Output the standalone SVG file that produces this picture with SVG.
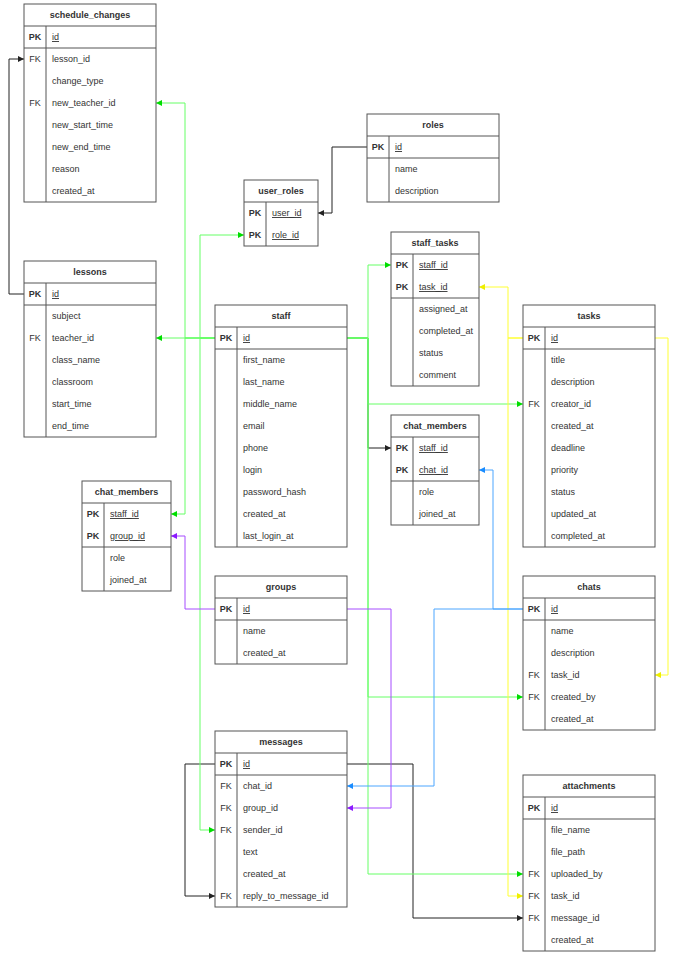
<svg xmlns="http://www.w3.org/2000/svg" width="680" height="955" viewBox="0 0 680 955">
<style>
.box{fill:#fff;stroke:#555;stroke-width:1}
.ln{stroke:#555;stroke-width:1}
text{font-family:"Liberation Sans",Arial,sans-serif;font-size:9px;fill:#333}
.h{font-weight:bold;text-anchor:middle}
.k{text-anchor:middle}
.pk{font-weight:bold;text-anchor:middle}
.u{text-decoration:underline}
.e{fill:none;stroke-width:1}
.bk{stroke:#222}
.gr{stroke:#66ff66}
.ye{stroke:#ffff33}
.bl{stroke:#4da6ff}
.pu{stroke:#a64dff}
</style>
<defs>
<marker id="ab" markerUnits="userSpaceOnUse" markerWidth="7" markerHeight="6" refX="6" refY="3" orient="auto"><path d="M0,0 L6,3 L0,6 z" fill="#222"/></marker>
<marker id="ag" markerUnits="userSpaceOnUse" markerWidth="7" markerHeight="6" refX="6" refY="3" orient="auto"><path d="M0,0 L6,3 L0,6 z" fill="#00dd00"/></marker>
<marker id="ay" markerUnits="userSpaceOnUse" markerWidth="7" markerHeight="6" refX="6" refY="3" orient="auto"><path d="M0,0 L6,3 L0,6 z" fill="#eeee00"/></marker>
<marker id="abl" markerUnits="userSpaceOnUse" markerWidth="7" markerHeight="6" refX="6" refY="3" orient="auto"><path d="M0,0 L6,3 L0,6 z" fill="#1a8cff"/></marker>
<marker id="ap" markerUnits="userSpaceOnUse" markerWidth="7" markerHeight="6" refX="6" refY="3" orient="auto"><path d="M0,0 L6,3 L0,6 z" fill="#8c1aff"/></marker>
</defs>
<rect width="680" height="955" fill="#fff"/>

<g id="connectors">
<path class="e bk" d="M24,294 H9 V59 H24" marker-end="url(#ab)"/>
<path class="e bk" d="M367,147 H332 V213 H318" marker-end="url(#ab)"/>
<path class="e bk" d="M347,338 H368 V448 H391" marker-end="url(#ab)"/>
<path class="e bk" d="M215,764 H185 V896 H215" marker-end="url(#ab)"/>
<path class="e bk" d="M347,764 H413 V918 H523" marker-end="url(#ab)"/>

<path class="e gr" d="M215,338 H156" marker-end="url(#ag)"/>
<path class="e gr" d="M215,338 H185 V103 H156" marker-end="url(#ag)"/>
<path class="e gr" d="M215,338 H185 V514 H171" marker-end="url(#ag)"/>
<path class="e gr" d="M215,338 H200 V235 H244" marker-end="url(#ag)"/>
<path class="e gr" d="M215,338 H200 V830 H215" marker-end="url(#ag)"/>
<path class="e gr" d="M347,338 H368 V265 H391" marker-end="url(#ag)"/>
<path class="e gr" d="M347,338 H368 V404 H523" marker-end="url(#ag)"/>
<path class="e gr" d="M347,338 H368 V697 H523" marker-end="url(#ag)"/>
<path class="e gr" d="M347,338 H368 V874 H523" marker-end="url(#ag)"/>

<path class="e ye" d="M523,338 H508 V287 H479" marker-end="url(#ay)"/>
<path class="e ye" d="M523,338 H508 V896 H523" marker-end="url(#ay)"/>
<path class="e ye" d="M655,338 H668 V675 H655" marker-end="url(#ay)"/>

<path class="e bl" d="M523,609 H493 V470 H479" marker-end="url(#abl)"/>
<path class="e bl" d="M523,609 H434 V786 H347" marker-end="url(#abl)"/>

<path class="e pu" d="M215,609 H185 V536 H171" marker-end="url(#ap)"/>
<path class="e pu" d="M347,609 H391 V808 H347" marker-end="url(#ap)"/>
</g>

<g id="schedule_changes">
<rect class="box" x="24" y="4" width="132" height="198"/>
<line class="ln" x1="24" y1="26" x2="156" y2="26"/>
<line class="ln" x1="24" y1="48" x2="156" y2="48"/>
<line class="ln" x1="46" y1="26" x2="46" y2="202"/>
<text class="h" x="90" y="18">schedule_changes</text>
<text class="pk" x="35" y="40">PK</text><text class="u" x="52" y="40">id</text>
<text class="k" x="35" y="62">FK</text><text x="52" y="62">lesson_id</text>
<text x="52" y="84">change_type</text>
<text class="k" x="35" y="106">FK</text><text x="52" y="106">new_teacher_id</text>
<text x="52" y="128">new_start_time</text>
<text x="52" y="150">new_end_time</text>
<text x="52" y="172">reason</text>
<text x="52" y="194">created_at</text>
</g>

<g id="lessons">
<rect class="box" x="24" y="261" width="132" height="176"/>
<line class="ln" x1="24" y1="283" x2="156" y2="283"/>
<line class="ln" x1="24" y1="305" x2="156" y2="305"/>
<line class="ln" x1="46" y1="283" x2="46" y2="437"/>
<text class="h" x="90" y="275">lessons</text>
<text class="pk" x="35" y="297">PK</text><text class="u" x="52" y="297">id</text>
<text x="52" y="319">subject</text>
<text class="k" x="35" y="341">FK</text><text x="52" y="341">teacher_id</text>
<text x="52" y="363">class_name</text>
<text x="52" y="385">classroom</text>
<text x="52" y="407">start_time</text>
<text x="52" y="429">end_time</text>
</g>

<g id="roles">
<rect class="box" x="367" y="114" width="132" height="88"/>
<line class="ln" x1="367" y1="136" x2="499" y2="136"/>
<line class="ln" x1="367" y1="158" x2="499" y2="158"/>
<line class="ln" x1="389" y1="136" x2="389" y2="202"/>
<text class="h" x="433" y="128">roles</text>
<text class="pk" x="378" y="150">PK</text><text class="u" x="395" y="150">id</text>
<text x="395" y="172">name</text>
<text x="395" y="194">description</text>
</g>

<g id="user_roles">
<rect class="box" x="244" y="180" width="74" height="66"/>
<line class="ln" x1="244" y1="202" x2="318" y2="202"/>
<line class="ln" x1="266" y1="202" x2="266" y2="246"/>
<text class="h" x="281" y="194">user_roles</text>
<text class="pk" x="255" y="216">PK</text><text class="u" x="272" y="216">user_id</text>
<text class="pk" x="255" y="238">PK</text><text class="u" x="272" y="238">role_id</text>
</g>

<g id="staff_tasks">
<rect class="box" x="391" y="232" width="88" height="154"/>
<line class="ln" x1="391" y1="254" x2="479" y2="254"/>
<line class="ln" x1="391" y1="298" x2="479" y2="298"/>
<line class="ln" x1="413" y1="254" x2="413" y2="386"/>
<text class="h" x="435" y="246">staff_tasks</text>
<text class="pk" x="402" y="268">PK</text><text class="u" x="419" y="268">staff_id</text>
<text class="pk" x="402" y="290">PK</text><text class="u" x="419" y="290">task_id</text>
<text x="419" y="312">assigned_at</text>
<text x="419" y="334">completed_at</text>
<text x="419" y="356">status</text>
<text x="419" y="378">comment</text>
</g>

<g id="staff">
<rect class="box" x="215" y="305" width="132" height="242"/>
<line class="ln" x1="215" y1="327" x2="347" y2="327"/>
<line class="ln" x1="215" y1="349" x2="347" y2="349"/>
<line class="ln" x1="237" y1="327" x2="237" y2="547"/>
<text class="h" x="281" y="319">staff</text>
<text class="pk" x="226" y="341">PK</text><text class="u" x="243" y="341">id</text>
<text x="243" y="363">first_name</text>
<text x="243" y="385">last_name</text>
<text x="243" y="407">middle_name</text>
<text x="243" y="429">email</text>
<text x="243" y="451">phone</text>
<text x="243" y="473">login</text>
<text x="243" y="495">password_hash</text>
<text x="243" y="517">created_at</text>
<text x="243" y="539">last_login_at</text>
</g>

<g id="tasks">
<rect class="box" x="523" y="305" width="132" height="242"/>
<line class="ln" x1="523" y1="327" x2="655" y2="327"/>
<line class="ln" x1="523" y1="349" x2="655" y2="349"/>
<line class="ln" x1="545" y1="327" x2="545" y2="547"/>
<text class="h" x="589" y="319">tasks</text>
<text class="pk" x="534" y="341">PK</text><text class="u" x="551" y="341">id</text>
<text x="551" y="363">title</text>
<text x="551" y="385">description</text>
<text class="k" x="534" y="407">FK</text><text x="551" y="407">creator_id</text>
<text x="551" y="429">created_at</text>
<text x="551" y="451">deadline</text>
<text x="551" y="473">priority</text>
<text x="551" y="495">status</text>
<text x="551" y="517">updated_at</text>
<text x="551" y="539">completed_at</text>
</g>

<g id="chat_members_right">
<rect class="box" x="391" y="415" width="88" height="110"/>
<line class="ln" x1="391" y1="437" x2="479" y2="437"/>
<line class="ln" x1="391" y1="481" x2="479" y2="481"/>
<line class="ln" x1="413" y1="437" x2="413" y2="525"/>
<text class="h" x="435" y="429">chat_members</text>
<text class="pk" x="402" y="451">PK</text><text class="u" x="419" y="451">staff_id</text>
<text class="pk" x="402" y="473">PK</text><text class="u" x="419" y="473">chat_id</text>
<text x="419" y="495">role</text>
<text x="419" y="517">joined_at</text>
</g>

<g id="chat_members_left">
<rect class="box" x="82" y="481" width="89" height="110"/>
<line class="ln" x1="82" y1="503" x2="171" y2="503"/>
<line class="ln" x1="82" y1="547" x2="171" y2="547"/>
<line class="ln" x1="104" y1="503" x2="104" y2="591"/>
<text class="h" x="126.5" y="495">chat_members</text>
<text class="pk" x="93" y="517">PK</text><text class="u" x="110" y="517">staff_id</text>
<text class="pk" x="93" y="539">PK</text><text class="u" x="110" y="539">group_id</text>
<text x="110" y="561">role</text>
<text x="110" y="583">joined_at</text>
</g>

<g id="groups">
<rect class="box" x="215" y="576" width="132" height="88"/>
<line class="ln" x1="215" y1="598" x2="347" y2="598"/>
<line class="ln" x1="215" y1="620" x2="347" y2="620"/>
<line class="ln" x1="237" y1="598" x2="237" y2="664"/>
<text class="h" x="281" y="590">groups</text>
<text class="pk" x="226" y="612">PK</text><text class="u" x="243" y="612">id</text>
<text x="243" y="634">name</text>
<text x="243" y="656">created_at</text>
</g>

<g id="chats">
<rect class="box" x="523" y="576" width="132" height="154"/>
<line class="ln" x1="523" y1="598" x2="655" y2="598"/>
<line class="ln" x1="523" y1="620" x2="655" y2="620"/>
<line class="ln" x1="545" y1="598" x2="545" y2="730"/>
<text class="h" x="589" y="590">chats</text>
<text class="pk" x="534" y="612">PK</text><text class="u" x="551" y="612">id</text>
<text x="551" y="634">name</text>
<text x="551" y="656">description</text>
<text class="k" x="534" y="678">FK</text><text x="551" y="678">task_id</text>
<text class="k" x="534" y="700">FK</text><text x="551" y="700">created_by</text>
<text x="551" y="722">created_at</text>
</g>

<g id="messages">
<rect class="box" x="215" y="731" width="132" height="176"/>
<line class="ln" x1="215" y1="753" x2="347" y2="753"/>
<line class="ln" x1="215" y1="775" x2="347" y2="775"/>
<line class="ln" x1="237" y1="753" x2="237" y2="907"/>
<text class="h" x="281" y="745">messages</text>
<text class="pk" x="226" y="767">PK</text><text class="u" x="243" y="767">id</text>
<text class="k" x="226" y="789">FK</text><text x="243" y="789">chat_id</text>
<text class="k" x="226" y="811">FK</text><text x="243" y="811">group_id</text>
<text class="k" x="226" y="833">FK</text><text x="243" y="833">sender_id</text>
<text x="243" y="855">text</text>
<text x="243" y="877">created_at</text>
<text class="k" x="226" y="899">FK</text><text x="243" y="899">reply_to_message_id</text>
</g>

<g id="attachments">
<rect class="box" x="523" y="775" width="132" height="176"/>
<line class="ln" x1="523" y1="797" x2="655" y2="797"/>
<line class="ln" x1="523" y1="819" x2="655" y2="819"/>
<line class="ln" x1="545" y1="797" x2="545" y2="951"/>
<text class="h" x="589" y="789">attachments</text>
<text class="pk" x="534" y="811">PK</text><text class="u" x="551" y="811">id</text>
<text x="551" y="833">file_name</text>
<text x="551" y="855">file_path</text>
<text class="k" x="534" y="877">FK</text><text x="551" y="877">uploaded_by</text>
<text class="k" x="534" y="899">FK</text><text x="551" y="899">task_id</text>
<text class="k" x="534" y="921">FK</text><text x="551" y="921">message_id</text>
<text x="551" y="943">created_at</text>
</g>
</svg>
